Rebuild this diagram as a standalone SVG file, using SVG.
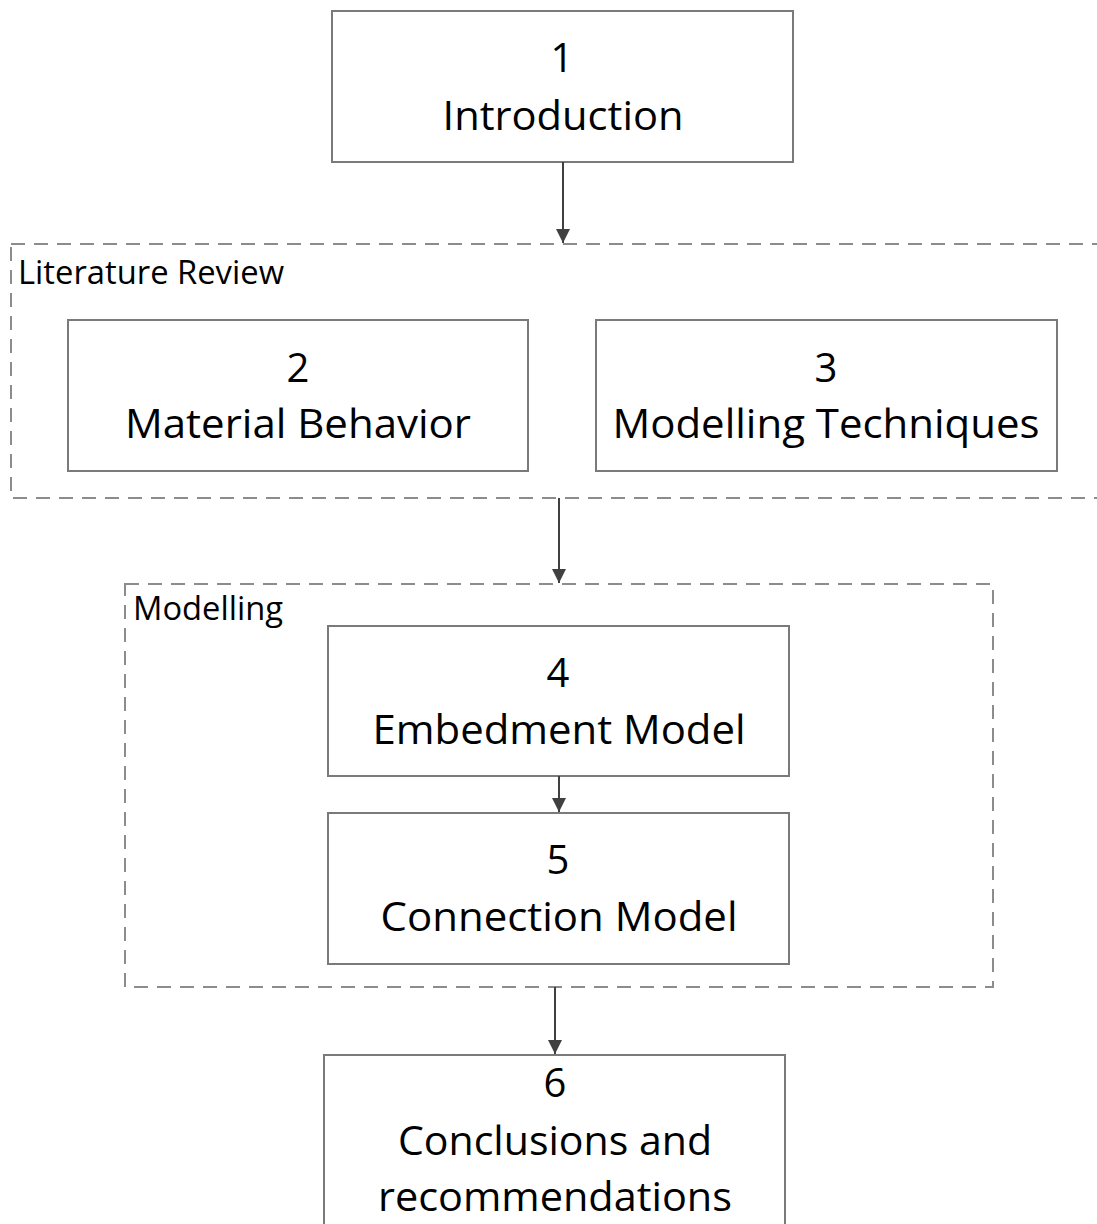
<svg xmlns="http://www.w3.org/2000/svg" width="1097" height="1224" viewBox="0 0 1097 1224">
<style>
.box{fill:#fff;stroke:#7a7a7a;stroke-width:2}
.grp{fill:none;stroke:#8c8c8c;stroke-width:2;stroke-dasharray:14 9}
.t{font-family:"Open Sans","Noto Sans",sans-serif;font-size:40px;fill:#000;text-anchor:middle}
.lbl{font-family:"Open Sans","Noto Sans",sans-serif;font-size:32px;fill:#000}
.conn{stroke:#404040;stroke-width:2;fill:none;marker-end:url(#arr)}
</style>
<defs>
<marker id="arr" viewBox="0 0 10 10" refX="10" refY="5" markerWidth="14" markerHeight="14" markerUnits="userSpaceOnUse" orient="auto">
<path d="M0,0 L10,5 L0,10 z" fill="#404040"/>
</marker>
</defs>
<rect width="1097" height="1224" fill="#fff"/>
<g id="group-literature">
<rect class="grp" x="11" y="244" width="1100" height="254"/>
<text class="lbl" x="18" y="284" textLength="266" lengthAdjust="spacingAndGlyphs">Literature Review</text>
</g>
<g id="group-modelling">
<rect class="grp" x="125" y="584" width="868" height="403"/>
<text class="lbl" x="133" y="620" textLength="150" lengthAdjust="spacingAndGlyphs">Modelling</text>
</g>
<g id="node1">
<rect class="box" x="332" y="11" width="461" height="151"/>
<text class="t" x="562" y="72">1</text>
<text class="t" x="563" y="130" textLength="241" lengthAdjust="spacingAndGlyphs">Introduction</text>
</g>
<g id="node2">
<rect class="box" x="68" y="320" width="460" height="151"/>
<text class="t" x="298" y="382">2</text>
<text class="t" x="298" y="438" textLength="346" lengthAdjust="spacingAndGlyphs">Material Behavior</text>
</g>
<g id="node3">
<rect class="box" x="596" y="320" width="461" height="151"/>
<text class="t" x="826" y="382">3</text>
<text class="t" x="826" y="438" textLength="427" lengthAdjust="spacingAndGlyphs">Modelling Techniques</text>
</g>
<g id="node4">
<rect class="box" x="328" y="626" width="461" height="150"/>
<text class="t" x="558" y="687">4</text>
<text class="t" x="559" y="744" textLength="373" lengthAdjust="spacingAndGlyphs">Embedment Model</text>
</g>
<g id="node5">
<rect class="box" x="328" y="813" width="461" height="151"/>
<text class="t" x="558" y="874">5</text>
<text class="t" x="559" y="931" textLength="357" lengthAdjust="spacingAndGlyphs">Connection Model</text>
</g>
<g id="node6">
<rect class="box" x="324" y="1055" width="461" height="200"/>
<text class="t" x="555" y="1097">6</text>
<text class="t" x="555" y="1155" textLength="314" lengthAdjust="spacingAndGlyphs">Conclusions and</text>
<text class="t" x="555" y="1211" textLength="354" lengthAdjust="spacingAndGlyphs">recommendations</text>
</g>
<g id="connectors">
<line class="conn" x1="563" y1="162" x2="563" y2="243"/>
<line class="conn" x1="559" y1="498" x2="559" y2="583"/>
<line class="conn" x1="559" y1="776" x2="559" y2="812"/>
<line class="conn" x1="555" y1="987" x2="555" y2="1054"/>
</g>
</svg>
